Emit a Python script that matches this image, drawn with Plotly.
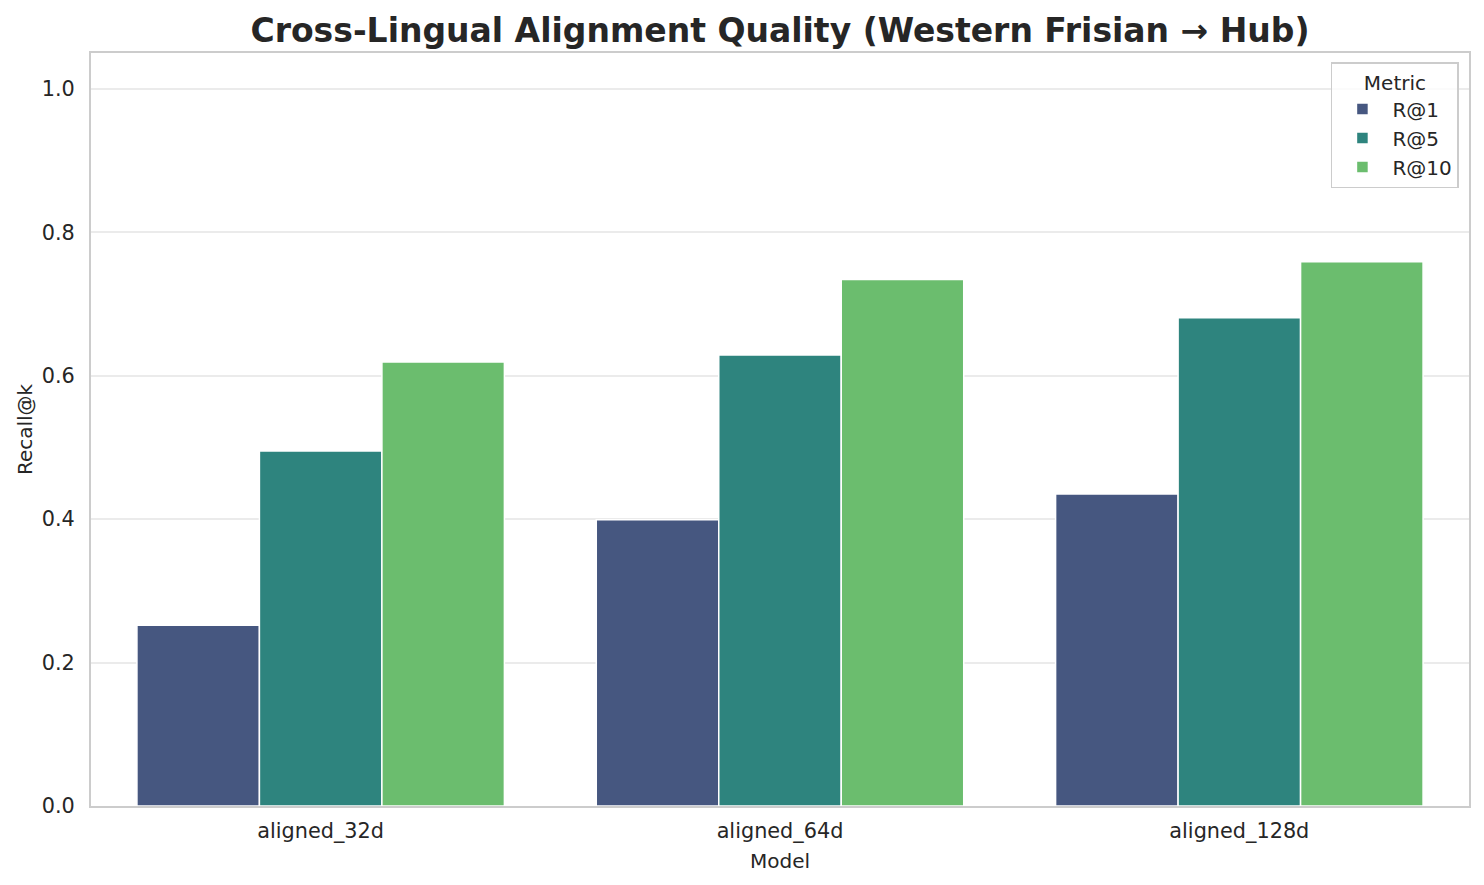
import plotly.graph_objects as go

models = ["aligned_32d", "aligned_64d", "aligned_128d"]
metrics = ["R@1", "R@5", "R@10"]
r_at_1 = [0.252, 0.399, 0.435]
r_at_5 = [0.495, 0.629, 0.681]
r_at_10 = [0.619, 0.734, 0.759]
colors = ["#465780", "#2e847e", "#6bbd6e"]
y_ticks = [0.0, 0.2, 0.4, 0.6, 0.8, 1.0]

series = [r_at_1, r_at_5, r_at_10]
FONT = "DejaVu Sans"
TXT = "#262626"

W, H = 1476, 877  # page body has an 8px margin

fig = go.Figure()
for name, vals, col in zip(metrics, series, colors):
    fig.add_trace(go.Bar(
        x=models, y=vals, name=name,
        marker=dict(color=col, line=dict(color="white", width=1.5)),
    ))

fig.update_layout(
    width=W, height=H,
    barmode="group", bargap=0.2, bargroupgap=0,
    paper_bgcolor="white", plot_bgcolor="white",
    margin=dict(l=83, r=15, t=45, b=79),
    font=dict(family=FONT, size=20, color=TXT),
    title=dict(text="<b>Cross-Lingual Alignment Quality (Western Frisian → Hub)</b>",
               xref="paper", x=0.5, xanchor="center", y=1 - 22 / H, yanchor="middle",
               font=dict(family=FONT, size=33, color=TXT)),
    legend=dict(
        title=dict(text="Metric", side="top center", font=dict(size=20, color=TXT)),
        x=0.9927, xanchor="right", y=0.988, yanchor="top",
        bordercolor="#cccccc", borderwidth=1.5, bgcolor="rgba(255,255,255,0.8)",
        font=dict(size=20, color=TXT),
        itemwidth=50,
    ),
    showlegend=True,
)
fig.update_xaxes(
    range=[-0.5, 2.5],
    showline=True, mirror=True, linecolor="#cccccc", linewidth=2,
    showgrid=False, ticks="", ticklabelstandoff=5,
    title=dict(text="Model", standoff=12, font=dict(size=20, color=TXT)),
    tickfont=dict(size=20.8, color=TXT),
)
fig.update_yaxes(
    range=[0, 1.05], tickvals=y_ticks, tickformat=".1f",
    showline=True, mirror=True, linecolor="#cccccc", linewidth=2,
    showgrid=True, gridcolor="#ebebeb", gridwidth=1.5, zeroline=False,
    ticks="", ticklabelstandoff=10,
    title=dict(text="Recall@k", standoff=4, font=dict(size=20, color=TXT)),
    tickfont=dict(size=20.8, color=TXT),
)

fig.write_html("out.html")
